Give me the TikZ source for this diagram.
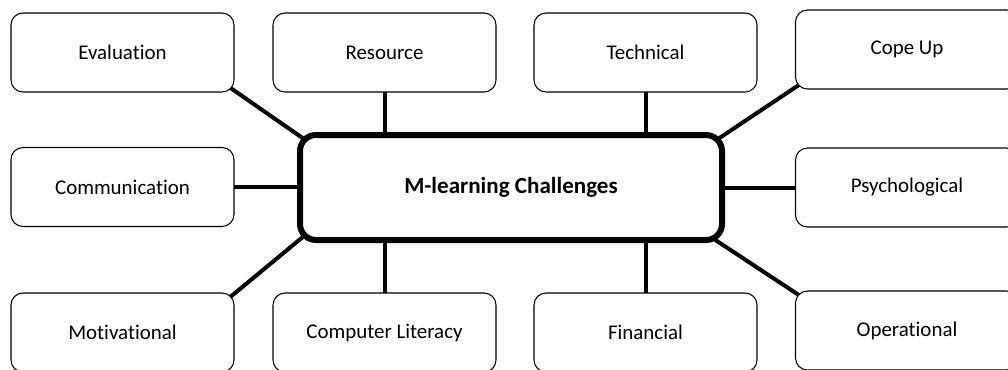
\documentclass[tikz,border=0pt]{standalone}
\usepackage{fontspec}
\setmainfont[Ligatures=NoCommon]{Carlito}
\usepackage{tikz}
\tikzset{
challenge/.style={draw, thick, rounded corners=9pt, fill=white, inner sep=0pt, outer sep=0pt,
  minimum width=167.25pt, minimum height=59.25pt, font=\fontsize{15.7pt}{19pt}\selectfont},
hub/.style={draw, line width=4.5pt, rounded corners=12pt, fill=white, inner sep=0pt, outer sep=0pt,
  minimum width=316.5pt, minimum height=78.75pt, font=\fontsize{17.3pt}{21pt}\selectfont\bfseries},
spoke/.style={line width=3pt}
}
\usetikzlibrary{backgrounds}

\begin{document}
\begin{tikzpicture}[x=0.75pt, y=-0.75pt]
			\useasboundingbox (0,0) rectangle (1008,369);
			\node[hub] (hub) at (511,187.5) {M-learning Challenges};
			% top row
			\node[challenge] (eval) at (122.5,52.5) {Evaluation};
			\node[challenge] (res) at (384.5,52.5) {Resource};
			\node[challenge] (tech) at (645.5,52.5) {Technical};
			\node[challenge] (cope) at (907,49.5) {Cope Up};
			% middle row
			\node[challenge] (comm) at (122.5,187) {Communication};
			\node[challenge] (psych) at (907,187.5) {Psychological};
			% bottom row
			\node[challenge] (motiv) at (122.5,332.5) {Motivational};
			\node[challenge] (complit) at (384.5,332.5) {Computer Literacy};
			\node[challenge] (fin) at (645.5,332.5) {Financial};
			\node[challenge] (oper) at (907,330.5) {Operational};
			% ----
			\begin{scope}[on background layer]
			\draw[spoke] ([xshift=-4pt,yshift=4pt]eval.south east) -- ([xshift=3pt,yshift=-3pt]hub.north west);
			\draw[spoke] (res.south) -- (res.south |- hub.north);
			\draw[spoke] (tech.south) -- (tech.south |- hub.north);
			\draw[spoke] ([xshift=4pt,yshift=4pt]cope.south west) -- ([xshift=-3pt,yshift=-3pt]hub.north east);

			\draw[spoke] (comm.east) -- (comm.east -| hub.west);
			\draw[spoke] (psych.west) -- (psych.west -| hub.east);

			\draw[spoke] ([xshift=-4pt,yshift=-4pt]motiv.north east) -- ([xshift=3pt,yshift=3pt]hub.south west);
			\draw[spoke] (complit.north) -- (complit.north |- hub.south);
			\draw[spoke] (fin.north) -- (fin.north |- hub.south);
			\draw[spoke] ([xshift=4pt,yshift=-4pt]oper.north west) -- ([xshift=-8pt,yshift=2pt]hub.south east);
			\end{scope}
		\end{tikzpicture}
\end{document}
